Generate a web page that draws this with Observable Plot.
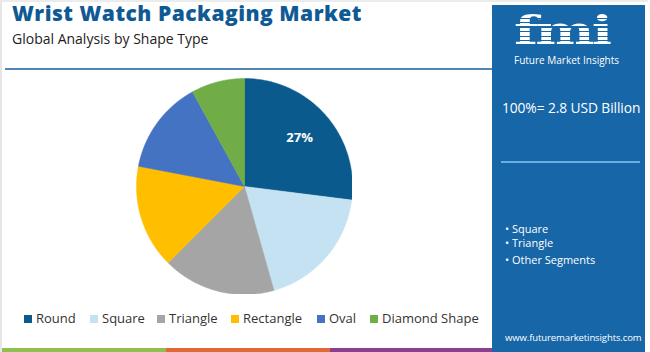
<!DOCTYPE html>
<html>
<head>
<meta charset="utf-8">
<script src="https://cdn.jsdelivr.net/npm/d3@7"></script>
<script src="https://cdn.jsdelivr.net/npm/@observablehq/plot@0.6"></script>
<style>
  html, body { margin: 0; padding: 0; background: #fff; }
  #page { position: relative; width: 650px; height: 352px; overflow: hidden; font-family: "Open Sans", sans-serif; background:#fff; }
  #page .frame { position:absolute; left:0; top:0; width:648px; height:352px; border-left:2px solid #e6e6e6; border-top:2px solid #ececec; box-sizing:border-box; }
  #title { position:absolute; left:12px; top:1px; font-size:21px; line-height:1.2; letter-spacing:0.5px; font-weight:800; color:#0f5a94; white-space:nowrap; }
  #subtitle { position:absolute; left:12px; top:30.5px; font-size:14px; line-height:1.2; color:#222; white-space:nowrap; }
  #sep { position:absolute; left:5px; top:68px; width:488px; height:2px; background:#4f87b6; }
  #panel { position:absolute; left:492px; top:5px; width:153px; height:347px; background:#1766a8; color:#fff; }
  #fmi { position:absolute; left:22px; top:4.5px; font-family:"DejaVu Serif", serif; font-weight:bold; font-size:40px; letter-spacing:-2px;
         transform-origin: 0 0; transform: scaleX(1.4);
         background: repeating-linear-gradient(180deg, #fff 0px, #fff 3px, #1766a8 3px, #1766a8 4.5px);
         -webkit-background-clip:text; background-clip:text; color:transparent; line-height:1; }
  #fmiText { position:absolute; left:22px; top:49px; font-size:10px; line-height:1.2; white-space:nowrap; }
  #total { position:absolute; left:10px; top:93px; font-size:13.8px; white-space:nowrap; letter-spacing:-0.1px; }
  #pline { position:absolute; left:9px; top:156px; width:139px; height:2px; background:#6aaee6; }
  #bullets { position:absolute; left:13px; top:217px; font-size:11px; line-height:14px; }
  #bullets div:nth-child(3) { margin-top:3px; }
  #url { position:absolute; left:13px; top:326px; font-size:9.5px; white-space:nowrap; letter-spacing:-0.1px; }
  #legend { position:absolute; left:0; top:309px; font-size:13px; color:#333; }
  .lg { position:absolute; top:0; white-space:nowrap; }
  .lg span.sw { position:absolute; top:6px; width:8px; height:8px; }
  .lg span.tx { position:absolute; top:0; }
  #bar { position:absolute; left:2px; top:348px; height:4px; width:490px; display:flex; }
  #chart { position:absolute; left:136px; top:78px; }
</style>
</head>
<body>
<div id="page">
  <div class="frame"></div>
  <div id="title">Wrist Watch Packaging Market</div>
  <div id="subtitle">Global Analysis by Shape Type</div>
  <div id="sep"></div>
  <div id="chart"></div>
  <div id="legend"></div>
  <div id="bar"><div style="width:164px;background:#8fc04f"></div><div style="width:164px;background:#e0693a"></div><div style="width:162px;background:#8b3f92"></div></div>
  <div id="panel">
    <div id="fmi">fmi</div>
    <div id="fmiText">Future Market Insights</div>
    <div id="total">100%= 2.8 USD Billion</div>
    <div id="pline"></div>
    <div id="bullets"><div>• Square</div><div>• Triangle</div><div>• Other Segments</div></div>
    <div id="url">www.futuremarketinsights.com</div>
  </div>
</div>
<script>
const categories = ["Round", "Square", "Triangle", "Rectangle", "Oval", "Diamond Shape"];
const shares = [27, 18.6, 16.9, 15.5, 14, 8];
const colors = ["#0b5a8e", "#c5e2f3", "#a5a5a5", "#ffbf00", "#4573c4", "#70ad47"];
const labels = ["27%", "", "", "", "", ""];
const legendX = [24, 90, 157, 231, 317, 370];

const data = categories.map((c, i) => ({category: c, value: shares[i], label: labels[i]}));
const arcs = d3.pie().sort(null).value(d => d.value)(data);

const pts = [];
for (const a of arcs) {
  const n = Math.max(2, Math.ceil((a.endAngle - a.startAngle) / 0.01));
  pts.push({category: a.data.category, x: 0, y: 0});
  for (let k = 0; k <= n; k++) {
    const t = a.startAngle + (a.endAngle - a.startAngle) * k / n;
    pts.push({category: a.data.category, x: Math.sin(t), y: Math.cos(t)});
  }
  pts.push({category: a.data.category, x: 0, y: 0});
}
const labelPts = arcs.filter(a => a.data.label).map(a => {
  const m = (a.startAngle + a.endAngle) / 2;
  return {label: a.data.label, x: 0.68 * Math.sin(m), y: 0.68 * Math.cos(m)};
});

const S = 216;
const chart = Plot.plot({
  width: S, height: S, margin: 0,
  x: {domain: [-1, 1], range: [0, S], axis: null},
  y: {domain: [-1, 1], range: [S, 0], axis: null},
  color: {domain: categories, range: colors},
  marks: [
    Plot.line(pts, {x: "x", y: "y", z: "category", fill: "category", stroke: "category", strokeWidth: 0.5, curve: "linear"}),
    Plot.text(labelPts, {x: "x", y: "y", text: "label", fill: "white", fontSize: 13, fontWeight: "bold", fontFamily: "Open Sans, sans-serif"})
  ]
});
document.getElementById("chart").appendChild(chart);

const lg = document.getElementById("legend");
categories.forEach((c, i) => {
  const d = document.createElement("div");
  d.className = "lg";
  d.style.left = legendX[i] + "px";
  d.innerHTML = `<span class="sw" style="left:0;background:${colors[i]}"></span><span class="tx" style="left:12px">${c}</span>`;
  lg.appendChild(d);
});
</script>
</body>
</html>
